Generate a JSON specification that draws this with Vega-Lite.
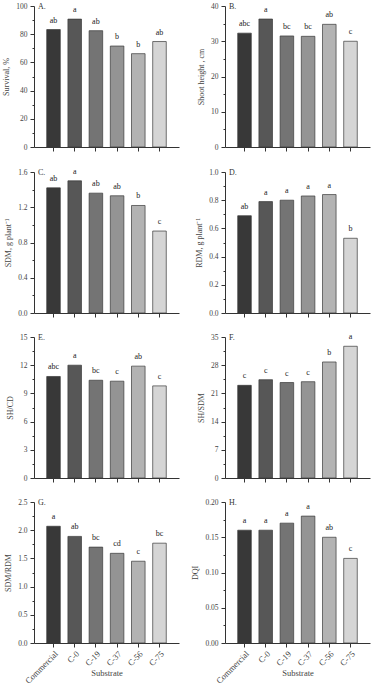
{
  "$schema": "https://vega.github.io/schema/vega-lite/v6.json",
  "padding": {"left": 2, "top": 2, "right": 3, "bottom": 0},
  "background": "white",
  "datasets": {
    "d": [
      {"p": "A", "s": "Commercial", "v": 83.3, "l": "ab"},
      {"p": "A", "s": "C-0", "v": 90.7, "l": "a"},
      {"p": "A", "s": "C-19", "v": 82.5, "l": "ab"},
      {"p": "A", "s": "C-37", "v": 71.6, "l": "b"},
      {"p": "A", "s": "C-56", "v": 66.2, "l": "b"},
      {"p": "A", "s": "C-75", "v": 74.8, "l": "ab"},
      {"p": "B", "s": "Commercial", "v": 32.3, "l": "abc"},
      {"p": "B", "s": "C-0", "v": 36.3, "l": "a"},
      {"p": "B", "s": "C-19", "v": 31.5, "l": "bc"},
      {"p": "B", "s": "C-37", "v": 31.4, "l": "bc"},
      {"p": "B", "s": "C-56", "v": 34.8, "l": "ab"},
      {"p": "B", "s": "C-75", "v": 30.0, "l": "c"},
      {"p": "C", "s": "Commercial", "v": 1.42, "l": "ab"},
      {"p": "C", "s": "C-0", "v": 1.50, "l": "a"},
      {"p": "C", "s": "C-19", "v": 1.36, "l": "ab"},
      {"p": "C", "s": "C-37", "v": 1.33, "l": "ab"},
      {"p": "C", "s": "C-56", "v": 1.22, "l": "b"},
      {"p": "C", "s": "C-75", "v": 0.93, "l": "c"},
      {"p": "D", "s": "Commercial", "v": 0.69, "l": "ab"},
      {"p": "D", "s": "C-0", "v": 0.79, "l": "a"},
      {"p": "D", "s": "C-19", "v": 0.80, "l": "a"},
      {"p": "D", "s": "C-37", "v": 0.83, "l": "a"},
      {"p": "D", "s": "C-56", "v": 0.84, "l": "a"},
      {"p": "D", "s": "C-75", "v": 0.53, "l": "b"},
      {"p": "E", "s": "Commercial", "v": 10.8, "l": "abc"},
      {"p": "E", "s": "C-0", "v": 12.0, "l": "a"},
      {"p": "E", "s": "C-19", "v": 10.4, "l": "bc"},
      {"p": "E", "s": "C-37", "v": 10.3, "l": "c"},
      {"p": "E", "s": "C-56", "v": 11.9, "l": "ab"},
      {"p": "E", "s": "C-75", "v": 9.8, "l": "c"},
      {"p": "F", "s": "Commercial", "v": 23.0, "l": "c"},
      {"p": "F", "s": "C-0", "v": 24.4, "l": "c"},
      {"p": "F", "s": "C-19", "v": 23.7, "l": "c"},
      {"p": "F", "s": "C-37", "v": 23.9, "l": "c"},
      {"p": "F", "s": "C-56", "v": 28.8, "l": "b"},
      {"p": "F", "s": "C-75", "v": 32.7, "l": "a"},
      {"p": "G", "s": "Commercial", "v": 2.07, "l": "a"},
      {"p": "G", "s": "C-0", "v": 1.89, "l": "ab"},
      {"p": "G", "s": "C-19", "v": 1.70, "l": "bc"},
      {"p": "G", "s": "C-37", "v": 1.59, "l": "cd"},
      {"p": "G", "s": "C-56", "v": 1.45, "l": "c"},
      {"p": "G", "s": "C-75", "v": 1.77, "l": "bc"},
      {"p": "H", "s": "Commercial", "v": 0.16, "l": "a"},
      {"p": "H", "s": "C-0", "v": 0.16, "l": "a"},
      {"p": "H", "s": "C-19", "v": 0.17, "l": "a"},
      {"p": "H", "s": "C-37", "v": 0.18, "l": "a"},
      {"p": "H", "s": "C-56", "v": 0.15, "l": "ab"},
      {"p": "H", "s": "C-75", "v": 0.12, "l": "c"}
    ]
  },
  "data": {"name": "d"},
  "columns": 2,
  "spacing": {"row": 15, "column": 12},
  "concat": [
    {
      "width": 145, "height": 141,
      "title": {"text": "A."},
      "transform": [{"filter": "datum.p === 'A'"}],
      "encoding": {
        "x": {"field": "s", "type": "nominal", "scale": {"domain": ["Commercial", "C-0", "C-19", "C-37", "C-56", "C-75"], "paddingInner": 0.36, "paddingOuter": 0.6}, "axis": {"labels": false, "title": null}},
        "y": {"field": "v", "type": "quantitative", "scale": {"domain": [0, 100], "nice": false}, "axis": {"values": [0, 20, 40, 60, 80, 100], "title": "Survival, %"}}
      },
      "layer": [
        {"mark": {"type": "bar", "stroke": "#3a3a3a", "strokeWidth": 0.7}, "encoding": {"color": {"field": "s", "type": "nominal", "scale": {"domain": ["Commercial", "C-0", "C-19", "C-37", "C-56", "C-75"], "range": ["#383838", "#575757", "#747474", "#949494", "#b3b3b3", "#d5d5d5"]}, "legend": null}}},
        {"mark": {"type": "text", "dy": -5, "baseline": "bottom", "fill": "#222"}, "encoding": {"text": {"field": "l"}, "y": {"field": "v", "type": "quantitative", "axis": {"orient": "left", "values": [10, 30, 50, 70, 90], "labels": false, "domain": false, "title": null, "tickSize": 2}}}}
      ],
      "resolve": {"axis": {"y": "independent"}}
    },
    {
      "width": 145, "height": 141,
      "title": {"text": "B."},
      "transform": [{"filter": "datum.p === 'B'"}],
      "encoding": {
        "x": {"field": "s", "type": "nominal", "scale": {"domain": ["Commercial", "C-0", "C-19", "C-37", "C-56", "C-75"], "paddingInner": 0.36, "paddingOuter": 0.6}, "axis": {"labels": false, "title": null}},
        "y": {"field": "v", "type": "quantitative", "scale": {"domain": [0, 40], "nice": false}, "axis": {"values": [0, 10, 20, 30, 40], "title": "Shoot height , cm"}}
      },
      "layer": [
        {"mark": {"type": "bar", "stroke": "#3a3a3a", "strokeWidth": 0.7}, "encoding": {"color": {"field": "s", "type": "nominal", "scale": {"domain": ["Commercial", "C-0", "C-19", "C-37", "C-56", "C-75"], "range": ["#383838", "#575757", "#747474", "#949494", "#b3b3b3", "#d5d5d5"]}, "legend": null}}},
        {"mark": {"type": "text", "dy": -5, "baseline": "bottom", "fill": "#222"}, "encoding": {"text": {"field": "l"}, "y": {"field": "v", "type": "quantitative", "axis": {"orient": "left", "values": [5, 15, 25, 35], "labels": false, "domain": false, "title": null, "tickSize": 2}}}}
      ],
      "resolve": {"axis": {"y": "independent"}}
    },
    {
      "width": 145, "height": 141,
      "title": {"text": "C."},
      "transform": [{"filter": "datum.p === 'C'"}],
      "encoding": {
        "x": {"field": "s", "type": "nominal", "scale": {"domain": ["Commercial", "C-0", "C-19", "C-37", "C-56", "C-75"], "paddingInner": 0.36, "paddingOuter": 0.6}, "axis": {"labels": false, "title": null}},
        "y": {"field": "v", "type": "quantitative", "scale": {"domain": [0, 1.6], "nice": false}, "axis": {"values": [0, 0.4, 0.8, 1.2, 1.6], "format": ".1f", "title": "SDM, g plant⁻¹"}}
      },
      "layer": [
        {"mark": {"type": "bar", "stroke": "#3a3a3a", "strokeWidth": 0.7}, "encoding": {"color": {"field": "s", "type": "nominal", "scale": {"domain": ["Commercial", "C-0", "C-19", "C-37", "C-56", "C-75"], "range": ["#383838", "#575757", "#747474", "#949494", "#b3b3b3", "#d5d5d5"]}, "legend": null}}},
        {"mark": {"type": "text", "dy": -5, "baseline": "bottom", "fill": "#222"}, "encoding": {"text": {"field": "l"}, "y": {"field": "v", "type": "quantitative", "axis": {"orient": "left", "values": [0.2, 0.6, 1.0, 1.4], "labels": false, "domain": false, "title": null, "tickSize": 2}}}}
      ],
      "resolve": {"axis": {"y": "independent"}}
    },
    {
      "width": 145, "height": 141,
      "title": {"text": "D."},
      "transform": [{"filter": "datum.p === 'D'"}],
      "encoding": {
        "x": {"field": "s", "type": "nominal", "scale": {"domain": ["Commercial", "C-0", "C-19", "C-37", "C-56", "C-75"], "paddingInner": 0.36, "paddingOuter": 0.6}, "axis": {"labels": false, "title": null}},
        "y": {"field": "v", "type": "quantitative", "scale": {"domain": [0, 1.0], "nice": false}, "axis": {"values": [0, 0.2, 0.4, 0.6, 0.8, 1.0], "format": ".1f", "title": "RDM, g plant⁻¹"}}
      },
      "layer": [
        {"mark": {"type": "bar", "stroke": "#3a3a3a", "strokeWidth": 0.7}, "encoding": {"color": {"field": "s", "type": "nominal", "scale": {"domain": ["Commercial", "C-0", "C-19", "C-37", "C-56", "C-75"], "range": ["#383838", "#575757", "#747474", "#949494", "#b3b3b3", "#d5d5d5"]}, "legend": null}}},
        {"mark": {"type": "text", "dy": -5, "baseline": "bottom", "fill": "#222"}, "encoding": {"text": {"field": "l"}, "y": {"field": "v", "type": "quantitative", "axis": {"orient": "left", "values": [0.1, 0.3, 0.5, 0.7, 0.9], "labels": false, "domain": false, "title": null, "tickSize": 2}}}}
      ],
      "resolve": {"axis": {"y": "independent"}}
    },
    {
      "width": 145, "height": 141,
      "title": {"text": "E."},
      "transform": [{"filter": "datum.p === 'E'"}],
      "encoding": {
        "x": {"field": "s", "type": "nominal", "scale": {"domain": ["Commercial", "C-0", "C-19", "C-37", "C-56", "C-75"], "paddingInner": 0.36, "paddingOuter": 0.6}, "axis": {"labels": false, "title": null}},
        "y": {"field": "v", "type": "quantitative", "scale": {"domain": [0, 15], "nice": false}, "axis": {"values": [0, 3, 6, 9, 12, 15], "title": "SH/CD"}}
      },
      "layer": [
        {"mark": {"type": "bar", "stroke": "#3a3a3a", "strokeWidth": 0.7}, "encoding": {"color": {"field": "s", "type": "nominal", "scale": {"domain": ["Commercial", "C-0", "C-19", "C-37", "C-56", "C-75"], "range": ["#383838", "#575757", "#747474", "#949494", "#b3b3b3", "#d5d5d5"]}, "legend": null}}},
        {"mark": {"type": "text", "dy": -5, "baseline": "bottom", "fill": "#222"}, "encoding": {"text": {"field": "l"}, "y": {"field": "v", "type": "quantitative", "axis": {"orient": "left", "values": [1.5, 4.5, 7.5, 10.5, 13.5], "labels": false, "domain": false, "title": null, "tickSize": 2}}}}
      ],
      "resolve": {"axis": {"y": "independent"}}
    },
    {
      "width": 145, "height": 141,
      "title": {"text": "F."},
      "transform": [{"filter": "datum.p === 'F'"}],
      "encoding": {
        "x": {"field": "s", "type": "nominal", "scale": {"domain": ["Commercial", "C-0", "C-19", "C-37", "C-56", "C-75"], "paddingInner": 0.36, "paddingOuter": 0.6}, "axis": {"labels": false, "title": null}},
        "y": {"field": "v", "type": "quantitative", "scale": {"domain": [0, 35], "nice": false}, "axis": {"values": [0, 7, 14, 21, 28, 35], "title": "SH/SDM"}}
      },
      "layer": [
        {"mark": {"type": "bar", "stroke": "#3a3a3a", "strokeWidth": 0.7}, "encoding": {"color": {"field": "s", "type": "nominal", "scale": {"domain": ["Commercial", "C-0", "C-19", "C-37", "C-56", "C-75"], "range": ["#383838", "#575757", "#747474", "#949494", "#b3b3b3", "#d5d5d5"]}, "legend": null}}},
        {"mark": {"type": "text", "dy": -5, "baseline": "bottom", "fill": "#222"}, "encoding": {"text": {"field": "l"}, "y": {"field": "v", "type": "quantitative", "axis": {"orient": "left", "values": [3.5, 10.5, 17.5, 24.5, 31.5], "labels": false, "domain": false, "title": null, "tickSize": 2}}}}
      ],
      "resolve": {"axis": {"y": "independent"}}
    },
    {
      "width": 145, "height": 141,
      "title": {"text": "G."},
      "transform": [{"filter": "datum.p === 'G'"}],
      "encoding": {
        "x": {"field": "s", "type": "nominal", "scale": {"domain": ["Commercial", "C-0", "C-19", "C-37", "C-56", "C-75"], "paddingInner": 0.36, "paddingOuter": 0.6}, "axis": {"labelAngle": -45, "labelFontSize": 8.5, "title": "Substrate", "titleY": 25, "titleFontSize": 8.5}},
        "y": {"field": "v", "type": "quantitative", "scale": {"domain": [0, 2.5], "nice": false}, "axis": {"values": [0, 0.5, 1.0, 1.5, 2.0, 2.5], "format": ".1f", "title": "SDM/RDM"}}
      },
      "layer": [
        {"mark": {"type": "bar", "stroke": "#3a3a3a", "strokeWidth": 0.7}, "encoding": {"color": {"field": "s", "type": "nominal", "scale": {"domain": ["Commercial", "C-0", "C-19", "C-37", "C-56", "C-75"], "range": ["#383838", "#575757", "#747474", "#949494", "#b3b3b3", "#d5d5d5"]}, "legend": null}}},
        {"mark": {"type": "text", "dy": -5, "baseline": "bottom", "fill": "#222"}, "encoding": {"text": {"field": "l"}, "y": {"field": "v", "type": "quantitative", "axis": {"orient": "left", "values": [0.25, 0.75, 1.25, 1.75, 2.25], "labels": false, "domain": false, "title": null, "tickSize": 2}}}}
      ],
      "resolve": {"axis": {"y": "independent"}}
    },
    {
      "width": 145, "height": 141,
      "title": {"text": "H."},
      "transform": [{"filter": "datum.p === 'H'"}],
      "encoding": {
        "x": {"field": "s", "type": "nominal", "scale": {"domain": ["Commercial", "C-0", "C-19", "C-37", "C-56", "C-75"], "paddingInner": 0.36, "paddingOuter": 0.6}, "axis": {"labelAngle": -45, "labelFontSize": 8.5, "title": "Substrate", "titleY": 25, "titleFontSize": 8.5}},
        "y": {"field": "v", "type": "quantitative", "scale": {"domain": [0, 0.2], "nice": false}, "axis": {"values": [0, 0.05, 0.1, 0.15, 0.2], "format": ".2f", "title": "DQI"}}
      },
      "layer": [
        {"mark": {"type": "bar", "stroke": "#3a3a3a", "strokeWidth": 0.7}, "encoding": {"color": {"field": "s", "type": "nominal", "scale": {"domain": ["Commercial", "C-0", "C-19", "C-37", "C-56", "C-75"], "range": ["#383838", "#575757", "#747474", "#949494", "#b3b3b3", "#d5d5d5"]}, "legend": null}}},
        {"mark": {"type": "text", "dy": -5, "baseline": "bottom", "fill": "#222"}, "encoding": {"text": {"field": "l"}, "y": {"field": "v", "type": "quantitative", "axis": {"orient": "left", "values": [0.025, 0.075, 0.125, 0.175], "labels": false, "domain": false, "title": null, "tickSize": 2}}}}
      ],
      "resolve": {"axis": {"y": "independent"}}
    }
  ],
  "config": {
    "view": {"stroke": null},
    "font": "Liberation Serif",
    "title": {"anchor": "start", "frame": "group", "offset": -9, "dx": 4, "fontSize": 8, "fontWeight": "normal", "font": "Liberation Serif", "color": "#333"},
    "text": {"font": "Liberation Serif", "fontSize": 8},
    "axis": {"grid": false, "labelFont": "Liberation Serif", "labelFontSize": 7.5, "labelColor": "#444", "titleFont": "Liberation Serif", "titleFontSize": 8, "titleFontWeight": "normal", "titleColor": "#444", "domainColor": "#333", "tickColor": "#333", "tickSize": 4, "labelPadding": 3, "titlePadding": 5},
    "axisX": {"tickSize": 4, "labelPadding": 2, "titlePadding": 2}
  }
}
